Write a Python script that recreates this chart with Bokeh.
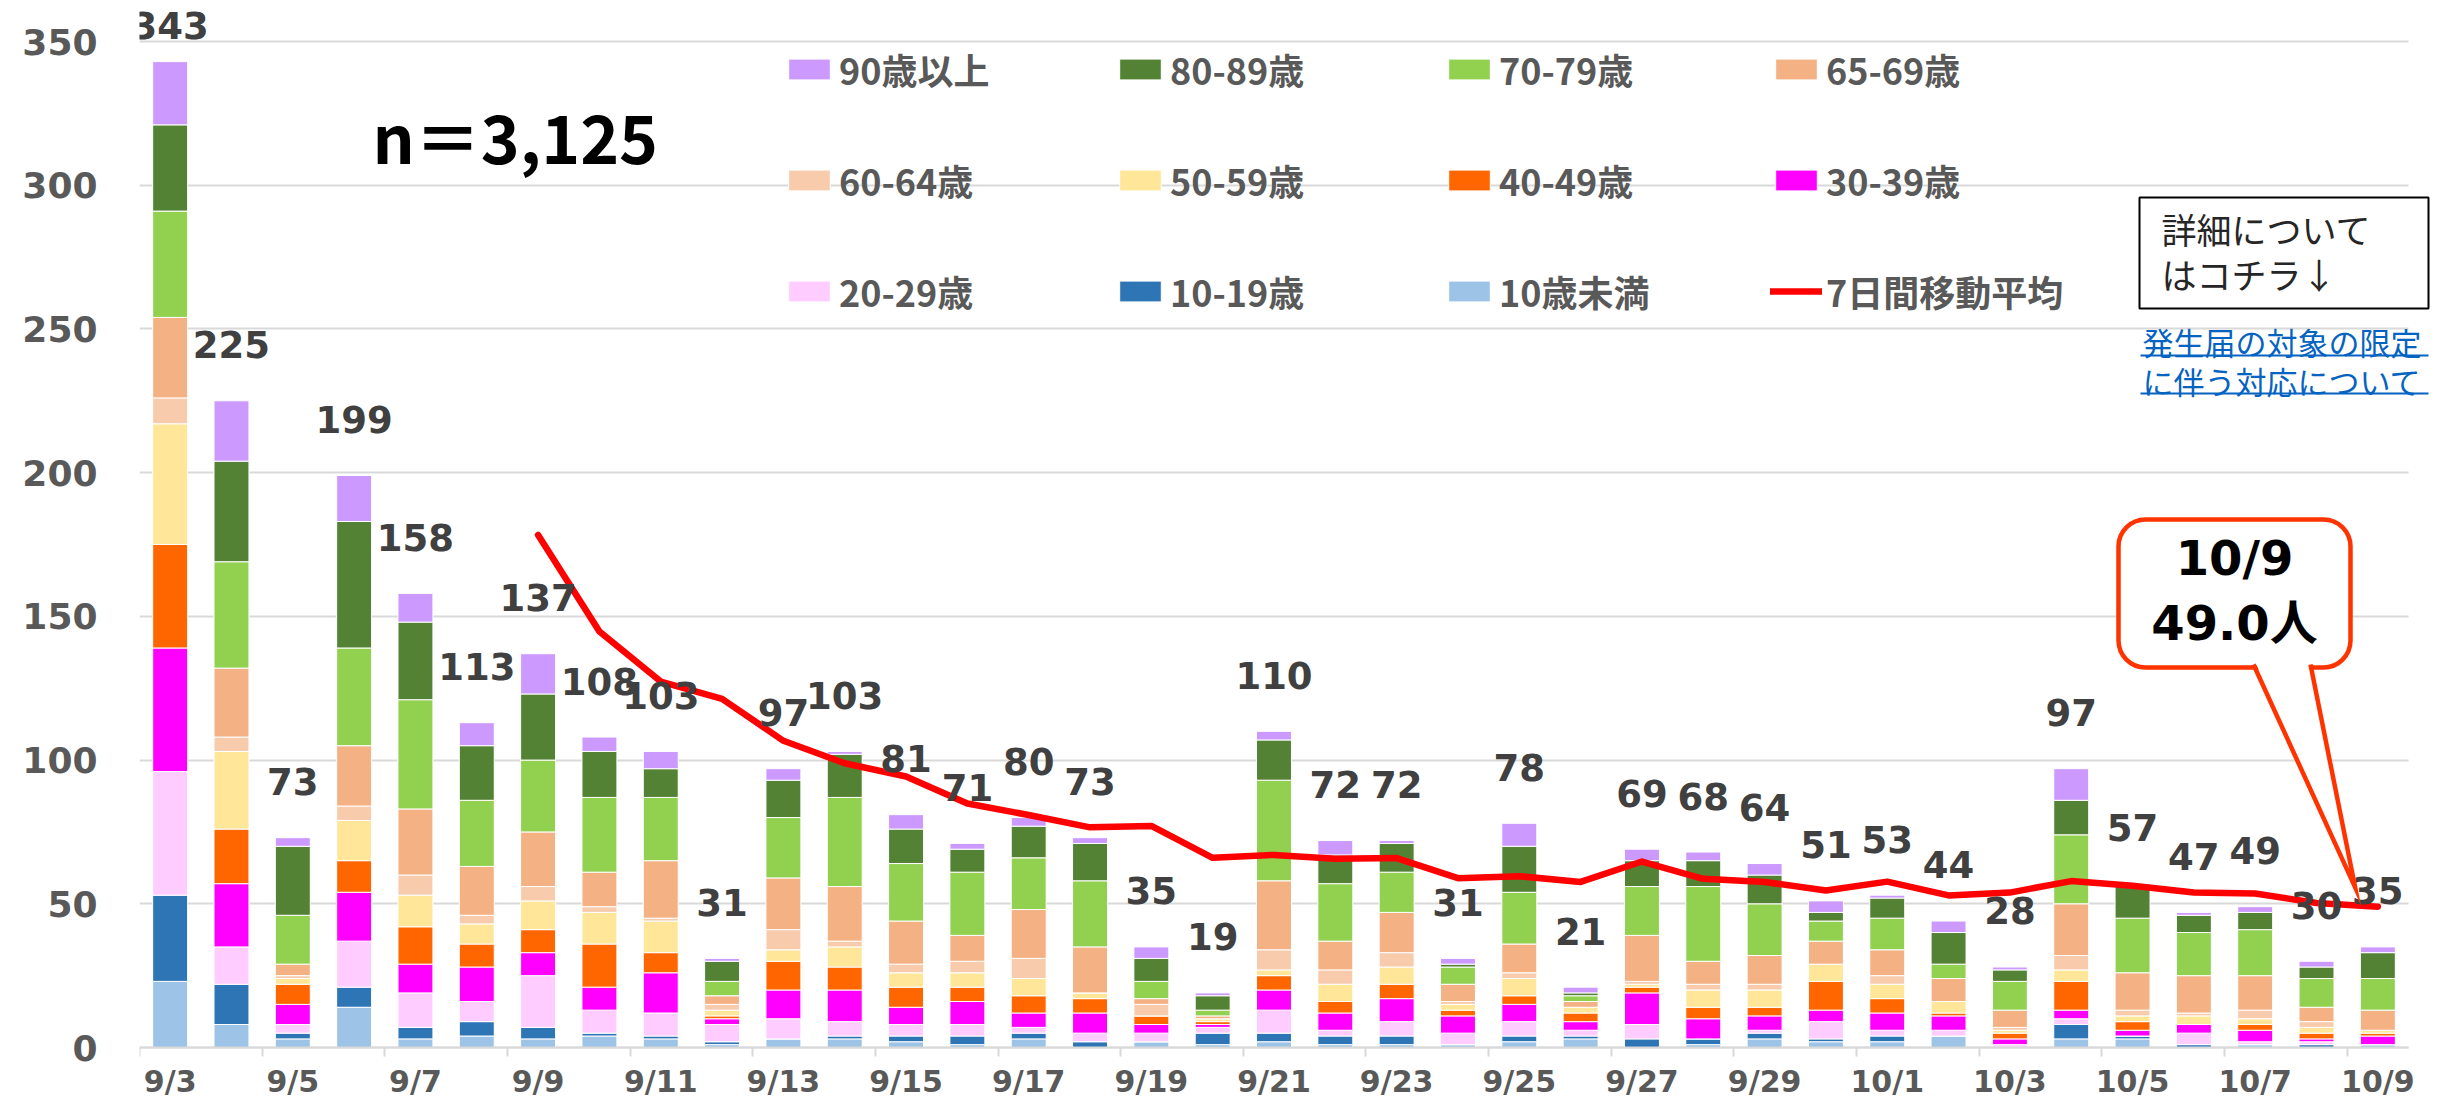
from bokeh.plotting import figure
from bokeh.models import (ColumnDataSource, Range1d, FixedTicker, Legend, LegendItem,
                          Label, BoxAnnotation)
from bokeh.embed import file_html
from bokeh.resources import INLINE
from bokeh.core.properties import value

# ---------------- data ----------------
dates = ["9/3", "9/4", "9/5", "9/6", "9/7", "9/8", "9/9", "9/10", "9/11", "9/12",
         "9/13", "9/14", "9/15", "9/16", "9/17", "9/18", "9/19", "9/20", "9/21", "9/22",
         "9/23", "9/24", "9/25", "9/26", "9/27", "9/28", "9/29", "9/30", "10/1", "10/2",
         "10/3", "10/4", "10/5", "10/6", "10/7", "10/8", "10/9"]

age_under10 = [23, 8, 3, 14, 3, 4, 3, 4, 3, 1, 3, 3, 2, 1, 3, 0, 2, 1, 2, 1, 1, 1, 2, 3, 0, 1, 3, 2, 2, 4, 0, 3, 3, 0, 1, 0, 1]
age_10_19 = [30, 14, 2, 7, 4, 5, 4, 1, 1, 1, 0, 1, 2, 3, 2, 2, 0, 4, 3, 3, 3, 0, 2, 1, 3, 2, 2, 1, 2, 0, 0, 5, 1, 1, 0, 1, 0]
age_20_29 = [43, 13, 3, 16, 12, 7, 18, 8, 8, 6, 7, 5, 4, 4, 2, 3, 3, 2, 8, 2, 5, 4, 5, 2, 5, 0, 1, 6, 2, 2, 1, 2, 0, 4, 1, 1, 0]
age_30_39 = [43, 22, 7, 17, 10, 12, 8, 8, 14, 2, 10, 11, 6, 8, 5, 7, 3, 1, 7, 6, 8, 6, 6, 3, 11, 7, 5, 4, 6, 5, 2, 3, 2, 3, 4, 1, 3]
age_40_49 = [36, 19, 7, 11, 13, 8, 8, 15, 7, 1, 10, 8, 7, 5, 6, 5, 3, 1, 5, 4, 5, 2, 3, 3, 2, 4, 3, 10, 5, 1, 2, 10, 3, 0, 2, 2, 1]
age_50_59 = [42, 27, 2, 14, 11, 7, 10, 11, 11, 2, 4, 7, 5, 5, 6, 2, 0, 1, 2, 6, 6, 2, 6, 2, 1, 6, 6, 6, 5, 4, 1, 4, 2, 3, 2, 2, 1]
age_60_64 = [9, 5, 1, 5, 7, 3, 5, 2, 1, 2, 7, 2, 3, 4, 7, 0, 4, 0, 7, 5, 5, 1, 2, 0, 1, 2, 2, 0, 3, 0, 1, 5, 2, 1, 3, 2, 0]
age_65_69 = [28, 24, 4, 21, 23, 17, 19, 12, 20, 3, 18, 19, 15, 9, 17, 16, 2, 1, 24, 10, 14, 6, 10, 2, 16, 8, 10, 8, 9, 8, 6, 18, 13, 13, 12, 5, 7]
age_70_79 = [37, 37, 17, 34, 38, 23, 25, 26, 22, 5, 21, 31, 20, 22, 18, 23, 6, 2, 35, 20, 14, 6, 18, 2, 17, 26, 18, 7, 11, 5, 10, 24, 19, 15, 16, 10, 11]
age_80_89 = [30, 35, 24, 44, 27, 19, 23, 16, 10, 7, 13, 15, 12, 8, 11, 13, 8, 5, 14, 10, 10, 1, 16, 1, 9, 9, 10, 3, 7, 11, 4, 12, 11, 6, 6, 4, 9]
age_90_plus = [22, 21, 3, 16, 10, 8, 14, 5, 6, 1, 4, 1, 5, 2, 3, 2, 4, 1, 3, 5, 1, 2, 8, 2, 4, 3, 4, 4, 1, 4, 1, 11, 1, 1, 2, 2, 2]

# 7-day moving average (starts on 9/9)
ma7 = [178.3, 144.7, 127.3, 121.3, 106.7, 98.9, 94.3, 84.9, 80.9, 76.6, 77.1, 66.0, 67.0,
       65.7, 65.9, 58.9, 59.6, 57.6, 64.7, 58.7, 57.6, 54.6, 57.7, 52.9, 53.9, 57.9, 56.3,
       53.9, 53.6, 50.3, 49.0]

keys = ["u10", "a10", "a20", "a30", "a40", "a50", "a60", "a65", "a70", "a80", "a90"]
series = [age_under10, age_10_19, age_20_29, age_30_39, age_40_49, age_50_59,
          age_60_64, age_65_69, age_70_79, age_80_89, age_90_plus]
names = ["10歳未満", "10-19歳", "20-29歳", "30-39歳", "40-49歳", "50-59歳",
         "60-64歳", "65-69歳", "70-79歳", "80-89歳", "90歳以上"]
colors = ["#9DC3E6", "#2E75B6", "#FFCCFF", "#FF00FF", "#FF6600", "#FFE699",
          "#F8CBAD", "#F4B183", "#92D050", "#548235", "#CC99FF"]
y_ticks = [0, 50, 100, 150, 200, 250, 300, 350]
n_total_text = "n＝3,125"
callout_text = "10/9\n49.0人"

# ---------------- layout geometry (px) ----------------
W, H = 2445, 1105
FL = 139                          # left of the plotting area
BAR_R = 2408                      # right end of the category area
Y0_PX = 1047                      # pixel row of value 0
Y350_PX = 41                      # pixel row of value 350
XU = (BAR_R - FL) / len(dates)    # px per category
YU = (Y0_PX - Y350_PX) / 350.0    # px per case
Y_START = -(H - Y0_PX) / YU
Y_END = 350 + Y350_PX / YU
X_END = -0.5 + (W - FL) / XU


def xd(sx):  # pixel x -> data x
    return (sx - FL) / XU - 0.5


def yd(sy):  # pixel y -> data y
    return (Y0_PX - sy) / YU


xs = list(range(len(dates)))
totals = [sum(v) for v in zip(*series)]

data = {"x": xs, "total": totals, "label": [str(t) for t in totals],
        "label_y": [min(t + 19.5, 355.5) for t in totals]}
for k, s in zip(keys, series):
    data[k] = s
src = ColumnDataSource(data)

p = figure(width=W, height=H, x_range=Range1d(-0.5, X_END),
           y_range=Range1d(Y_START, Y_END), output_backend="svg", toolbar_location=None,
           min_border_left=FL, min_border_right=0, min_border_top=0,
           min_border_bottom=0)
p.outline_line_color = None
p.background_fill_color = "white"
p.border_fill_color = "white"

bars = p.vbar_stack(keys, x="x", width=0.57, color=colors, source=src,
                    line_color="white", line_width=1)

line_r = p.line(x=list(range(6, len(dates))), y=ma7, line_color="#FF0000", line_width=6.5,
                line_join="round", line_cap="round")

p.text(x="x", y="label_y", text="label", source=src, text_align="center",
       text_baseline="middle", text_font=value("DejaVu Sans"), text_font_style="bold",
       text_font_size="37px", text_color="#404040")

# axes / grid
p.xgrid.grid_line_color = None
p.ygrid.grid_line_color = "#D9D9D9"
p.ygrid.grid_line_width = 2
p.ygrid.cross_bounds = (-0.5, len(dates) - 0.5)

p.yaxis.axis_label = None
p.yaxis.ticker = FixedTicker(ticks=y_ticks)
p.yaxis.axis_line_color = None
p.yaxis.major_tick_line_color = None
p.yaxis.minor_tick_line_color = None
p.yaxis.major_tick_out = 0
p.yaxis.major_tick_in = 0
p.yaxis.major_label_standoff = 42
p.yaxis.major_label_text_font = "DejaVu Sans"
p.yaxis.major_label_text_font_style = "bold"
p.yaxis.major_label_text_font_size = "36px"
p.yaxis.major_label_text_color = "#595959"

label_pos = list(range(0, len(dates), 2))
p.xaxis.axis_label = None
p.xaxis.fixed_location = 0
p.xaxis.ticker = FixedTicker(ticks=label_pos,
                             minor_ticks=[i - 0.5 for i in range(0, len(dates), 2)])
p.xaxis.bounds = (-0.5, len(dates) - 0.5)
p.xaxis.major_label_overrides = {i: dates[i] for i in label_pos}
p.xaxis.axis_line_color = "#D9D9D9"
p.xaxis.axis_line_width = 2
p.xaxis.major_tick_line_color = None
p.xaxis.major_tick_out = 0
p.xaxis.major_tick_in = 0
p.xaxis.minor_tick_line_color = "#D9D9D9"
p.xaxis.minor_tick_line_width = 2
p.xaxis.minor_tick_out = 9
p.xaxis.minor_tick_in = 0
p.xaxis.major_label_standoff = 7
p.xaxis.major_label_text_font = "DejaVu Sans"
p.xaxis.major_label_text_font_style = "bold"
p.xaxis.major_label_text_font_size = "30px"
p.xaxis.major_label_text_color = "#595959"

# legends (4 columns x 3 rows)
rmap = dict(zip(keys, bars))
columns = [[("90歳以上", rmap["a90"]), ("60-64歳", rmap["a60"]), ("20-29歳", rmap["a20"])],
           [("80-89歳", rmap["a80"]), ("50-59歳", rmap["a50"]), ("10-19歳", rmap["a10"])],
           [("70-79歳", rmap["a70"]), ("40-49歳", rmap["a40"]), ("10歳未満", rmap["u10"])],
           [("65-69歳", rmap["a65"]), ("30-39歳", rmap["a30"]), ("7日間移動平均", line_r)]]
col_x = [783, 1114, 1443, 1770]
ITEM_H = 52
ROW_STEP = 111
LEG_H = 3 * ITEM_H + 2 * (ROW_STEP - ITEM_H)
leg_top = 69 - ITEM_H / 2
for cx, col in zip(col_x, columns):
    lg = Legend(items=[LegendItem(label=value(l), renderers=[r]) for l, r in col],
                location=(cx - FL, H - leg_top - LEG_H), orientation="vertical",
                glyph_width=52, glyph_height=26, label_standoff=4,
                spacing=ROW_STEP - ITEM_H,
                padding=0, margin=0, border_line_color=None, background_fill_alpha=0,
                label_text_font="Noto Sans CJK JP", label_text_font_style="bold",
                label_text_font_size="36px", label_text_color="#595959")
    p.add_layout(lg)

# n = 3,125
p.add_layout(Label(x=xd(372), y=yd(134), text=n_total_text, text_align="left",
                   text_baseline="middle", text_font="Noto Sans CJK JP",
                   text_font_style="bold", text_font_size="66px", text_color="black"))

# info box
p.add_layout(BoxAnnotation(left=xd(2139), right=xd(2428), top=yd(197), bottom=yd(308),
                           fill_color="white", fill_alpha=1, line_color="black",
                           line_width=2, line_alpha=1))
for t, sy in [("詳細について", 228), ("はコチラ↓", 273)]:
    p.add_layout(Label(x=xd(2161), y=yd(sy), text=t, text_align="left",
                       text_baseline="middle", text_font="Noto Sans CJK JP",
                       text_font_size="35px", text_color="#262626"))
for t, sy, uy in [("発生届の対象の限定", 341, 355), ("に伴う対応について", 380, 393)]:
    p.add_layout(Label(x=xd(2142), y=yd(sy), text=t, text_align="left",
                       text_baseline="middle", text_font="Noto Sans CJK JP",
                       text_font_size="31px", text_color="#0563C1"))
    p.add_layout(BoxAnnotation(left=xd(2140), right=xd(2428), top=yd(uy - 1),
                               bottom=yd(uy + 1), fill_color="#0563C1", fill_alpha=1,
                               line_color=None))

# callout for the last moving-average value
p.add_layout(BoxAnnotation(left=xd(2118), right=xd(2350), top=yd(519), bottom=yd(667),
                           fill_color="white", fill_alpha=1, line_color="#FF3300",
                           line_width=4.5, line_alpha=1, border_radius=27))
last_x = len(dates) - 1
tip_x = last_x - 0.37
tip_y = ma7[-1] + 6.7
p.patch([xd(2255), tip_x, xd(2308)], [yd(662), tip_y, yd(662)], fill_color="white",
        line_color=None, level="overlay")
p.line([xd(2253), tip_x, xd(2310)], [yd(664), tip_y, yd(664)], line_color="#FF3300",
       line_width=4.5, line_join="miter", level="overlay")
p.add_layout(Label(x=xd(2234), y=yd(590), text=callout_text, text_align="center",
                   text_baseline="middle", text_font="DejaVu Sans, Noto Sans CJK JP",
                   text_font_style="bold", text_font_size="48px", text_color="black",
                   text_line_height=1.17))

open("out.html", "w").write(file_html(p, INLINE))
